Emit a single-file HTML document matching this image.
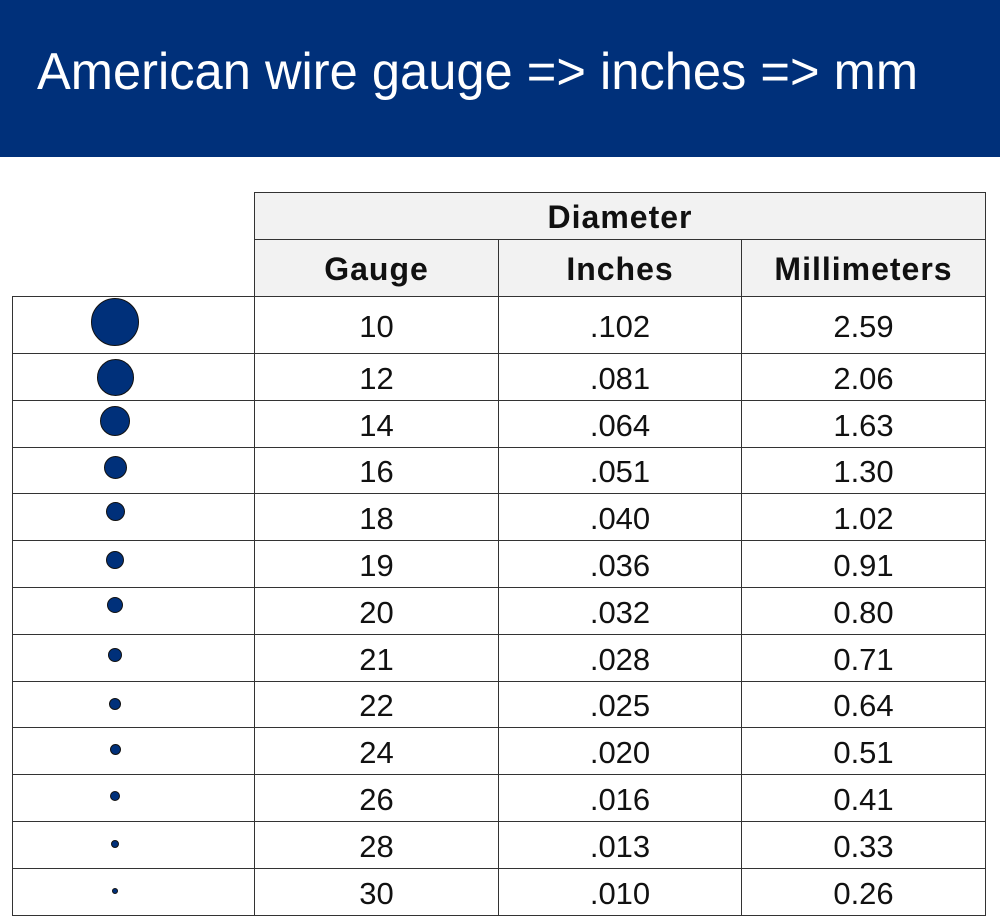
<!DOCTYPE html>
<html><head><meta charset="utf-8"><style>
body{margin:0;width:1000px;height:916px;background:#fff;position:relative;overflow:hidden;font-family:"Liberation Sans",sans-serif}
.hdr{position:absolute;left:0;top:0;width:1000px;height:157px;background:#00307a}
.c{position:absolute;box-sizing:border-box;border:1px solid #333;display:flex;align-items:center;justify-content:center;font-size:31px;color:#111;padding-top:3px}
.h{background:#f2f2f2;font-weight:bold;font-size:32px;letter-spacing:1px}
.dot{position:absolute;border-radius:50%;background:#00307a;border:1px solid #111;box-sizing:border-box}
</style></head><body>
<div class="hdr"><svg width="1000" height="157"><text x="37" y="89" fill="#fff" font-family="Liberation Sans, sans-serif" font-size="52" textLength="881" lengthAdjust="spacingAndGlyphs">American wire gauge =&gt; inches =&gt; mm</text></svg></div>
<div class="c h" style="left:254px;top:192px;width:732px;height:48px">Diameter</div>
<div class="c h" style="left:254px;top:239px;width:245px;height:58px">Gauge</div>
<div class="c h" style="left:498px;top:239px;width:244px;height:58px">Inches</div>
<div class="c h" style="left:741px;top:239px;width:245px;height:58px">Millimeters</div>
<div id="rows"></div>
<script>
var d=[["10",".102","2.59",48,322],["12",".081","2.06",37,377],["14",".064","1.63",30,421],["16",".051","1.30",23,467],["18",".040","1.02",19,511],["19",".036","0.91",18,560],["20",".032","0.80",16,605],["21",".028","0.71",14,655],["22",".025","0.64",12,704],["24",".020","0.51",11,749],["26",".016","0.41",10,796],["28",".013","0.33",8,844],["30",".010","0.26",6,891]];
var ys=[296,353,400,447,493,540,587,634,681,727,774,821,868,915];
var h="";
for(var i=0;i<13;i++){var t=ys[i],hh=ys[i+1]-t+1;
h+='<div class="c" style="left:12px;top:'+t+'px;width:243px;height:'+hh+'px"></div>';
var xs=[254,498,741],ws=[245,244,245];
for(var j=0;j<3;j++)h+='<div class="c" style="left:'+xs[j]+'px;top:'+t+'px;width:'+ws[j]+'px;height:'+hh+'px">'+d[i][j]+'</div>';
var s=d[i][3];h+='<div class="dot" style="left:'+(115-s/2)+'px;top:'+(d[i][4]-s/2)+'px;width:'+s+'px;height:'+s+'px"></div>';}
document.getElementById("rows").innerHTML=h;
</script>
</body></html>
